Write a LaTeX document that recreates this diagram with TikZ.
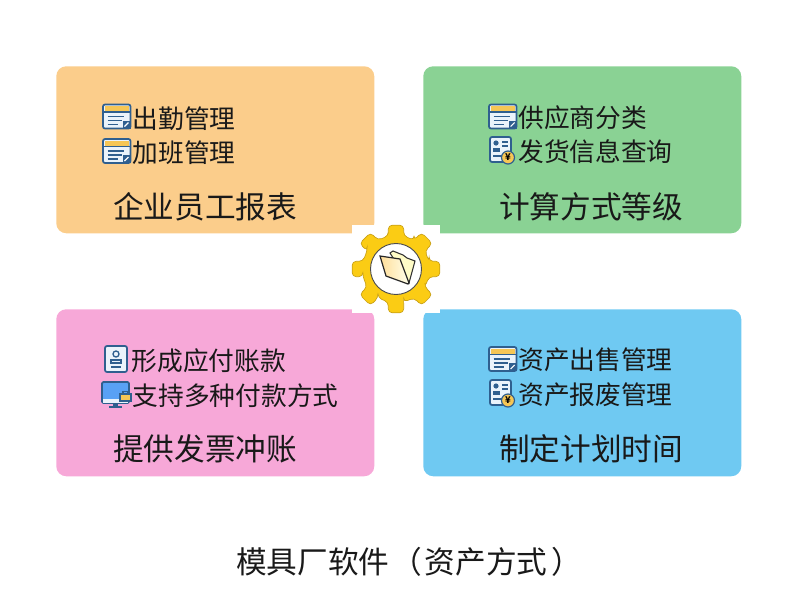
\documentclass[tikz,border=0pt]{standalone}
\usepackage{fontspec}
\setmainfont{Noto Sans CJK SC}
\newfontfamily\parenfont{Noto Sans CJK TC}
\usetikzlibrary{positioning}
\definecolor{panelorange}{HTML}{FBCD8B}
\definecolor{panelgreen}{HTML}{8AD294}
\definecolor{panelpink}{HTML}{F7A8D8}
\definecolor{panelblue}{HTML}{6FC9F2}
\definecolor{icoline}{HTML}{2F5F8F}
\definecolor{icofill}{HTML}{EAF3FB}
\definecolor{icoband}{HTML}{F6C655}
\definecolor{gearfill}{HTML}{FBCC14}
\definecolor{gearline}{HTML}{C9A015}
\tikzset{
	panel/.style={draw=none,rectangle,rounded corners=7.5pt,minimum width=238.5pt,minimum height=125.25pt,anchor=north west},
	rowtext/.style={anchor=west,inner sep=0pt,font=\fontsize{19.3}{19.3}\selectfont,text=black!90},
	headtext/.style={anchor=west,inner sep=0pt,font=\fontsize{23}{23}\selectfont,text=black!90},
	icoframe/.style={draw=icoline,line width=1.3pt,fill=icofill,rounded corners=1.5pt},
	icostroke/.style={draw=icoline,line width=1pt},
	formicon/.pic={
		\draw[icoframe] (-13.5,-12) rectangle (14,12);
		\fill[icoband] (-12,-10.5) rectangle (12.5,-5);
		\draw[icoline,line width=.8pt] (-12.5,-4.5) -- (13,-4.5);
		\draw[icostroke] (-9,0) -- (7,0) (-9,4) -- (5,4) (-9,8) -- (1,8);
		\fill[icoline] (14,4) -- (14,12) -- (6,12) -- (6,4) -- cycle;
		\draw[white,line width=.8pt] (8,10) -- (12,6);
	},
	coinicon/.pic={
		\draw[icoframe] (-12,-14) rectangle (9,11);
		\fill[icoline] (-6,-8) circle (2.6);
		\fill[icoline] (-9.5,-3) rectangle (-2.5,1);
		\draw[icostroke] (0,-9) -- (6,-9) (0,-5) -- (6,-5) (-9,5) -- (2,5);
		\draw[icoline,line width=.9pt,fill=icoband] (6,6.5) circle (6.5);
		\node[inner sep=0pt,font=\fontsize{7}{7}\selectfont\bfseries,text=black] at (6,6.5) {¥};
	},
	badgeicon/.pic={
		\draw[icoframe] (-11,-13) rectangle (11,13);
		\draw[icoline,line width=1pt,fill=icofill] (0,-5) circle (3);
		\draw[icoline,line width=1pt] (-5,1) rectangle (5,4);
		\draw[icostroke] (-5,8) -- (5,8);
	},
	monitoricon/.pic={
		\draw[icoline,line width=1.3pt,fill=panelblue!80!blue,rounded corners=1pt] (-14,-12) rectangle (13,9);
		\fill[icofill] (-13,5) rectangle (12,8.5);
		\fill[icoline] (-3,10) rectangle (2,12);
		\draw[icoline,line width=1.3pt] (-7,13) -- (6,13);
		\draw[icoline,line width=.8pt,fill=icoband] (4,0) rectangle (15,7);
		\draw[icoline,line width=.8pt] (7,0) -- (7,-2.5) -- (12,-2.5) -- (12,0);
	}
}
\begin{document}
\begin{tikzpicture}[x=.75pt,y=-.75pt]
\useasboundingbox (0,0) rectangle (800,600);
% four coloured panels
\node[panel,fill=panelorange] (panelA) at (56,66) {};
\node[panel,fill=panelgreen] (panelB) at (423,66) {};
\node[panel,fill=panelpink] (panelC) at (56,309) {};
\node[panel,fill=panelblue] (panelD) at (423,309) {};
% rows of text, name/x/y
\foreach \name/\x/\y/\txt in {
	rowAa/132.5/119/出勤管理,rowAb/132.5/153/加班管理,
	rowBa/518/118/供应商分类,rowBb/518/152/发货信息查询,
	rowCa/131.5/361/形成应付账款,rowCb/132.5/396/支持多种付款方式,
	rowDa/518/360/资产出售管理,rowDb/518/395/资产报废管理}
{
	\node[rowtext] (\name) at (\x,\y) {\txt};
}
\foreach \name/\x/\y/\txt in {
	headA/113/207/企业员工报表,headB/499/207/计算方式等级,
	headC/113/449/提供发票冲账,headD/499/449/制定计划时间}
{
	\node[headtext] (\name) at (\x,\y) {\txt};
}
% icons
\foreach \x/\y in {116.5/116.5,116.5/151,502.5/116.5,502.5/359}
{
	\pic at (\x,\y) {formicon};
}
\foreach \x/\y in {502/151,502/394}
{
	\pic at (\x,\y) {coinicon};
}
\pic at (116,359) {badgeicon};
\pic at (116,394) {monitoricon};
% gear in the middle
\fill[white] (352,225) rectangle (440,313);
\begin{scope}[shift={(396,269)}]
\draw[draw=gearline,line width=.5pt,fill=gearfill,rounded corners=3pt]
	(-13:34)
	\foreach \a in {0,45,...,315}
	{
		-- (\a-13:34) -- (\a-10:44.5) -- (\a+10:44.5) -- (\a+13:34) -- (\a+32:34)
	} -- cycle;
\draw[draw=black!70,line width=.7pt,fill=white] (0,0) circle (25.5);
\draw[black!80,line width=.8pt,fill=yellow!22!white]
	(-6,-16) -- (-3,-18) -- (7,-14) -- (11,-11) -- (19,-8) -- (13,14) -- cycle;
\draw[black!85,line width=.9pt,left color=yellow!35!orange!40!white,right color=yellow!8!white]
	(-16,-13) -- (4,-10) -- (13,14) -- (12,15) -- (-10,7) -- cycle;
\end{scope}
\node[headtext] (caption) at (236,562) {模具厂软件\kern1.5pt{\parenfont （}\kern2pt 资产方式\kern3pt{\parenfont ）}};
\end{tikzpicture}
\end{document}
